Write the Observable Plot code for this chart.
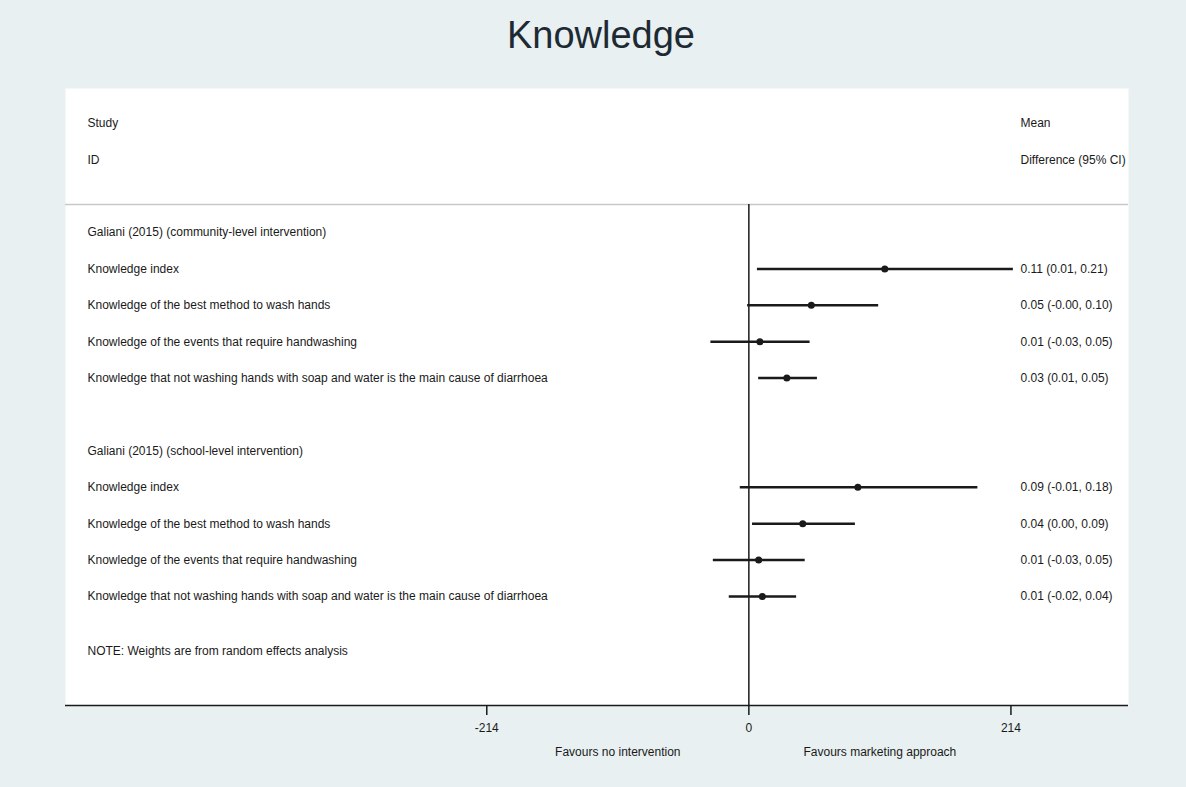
<!DOCTYPE html>
<html><head><meta charset="utf-8">
<script src="https://cdn.jsdelivr.net/npm/d3@7"></script>
<script src="https://cdn.jsdelivr.net/npm/@observablehq/plot@0.6"></script>
<style>
body{margin:0;background:#e8f0f1;font-family:"Liberation Sans",Arial,sans-serif;}
#title{height:70px;line-height:70px;text-align:center;font-size:38px;color:#1e2a33;padding-left:16px;}
#chart svg{display:block;}
</style></head><body>
<div id="title">Knowledge</div>
<div id="chart"></div>
<script>
// ---- data ----
const groups = [
  "Galiani (2015) (community-level intervention)",
  "Galiani (2015) (school-level intervention)"
];
const outcomes = [
  "Knowledge index",
  "Knowledge of the best method to wash hands",
  "Knowledge of the events that require handwashing",
  "Knowledge that not washing hands with soap and water is the main cause of diarrhoea"
];
const estimates = [0.111, 0.051, 0.009, 0.031, 0.089, 0.044, 0.008, 0.011];
const lowerCI   = [0.007, -0.001, -0.031, 0.008, -0.007, 0.003, -0.029, -0.016];
const upperCI   = [0.216, 0.106, 0.050, 0.056, 0.187, 0.087, 0.046, 0.039];
const ciLabels  = [
  "0.11 (0.01, 0.21)", "0.05 (-0.00, 0.10)", "0.01 (-0.03, 0.05)", "0.03 (0.01, 0.05)",
  "0.09 (-0.01, 0.18)", "0.04 (0.00, 0.09)", "0.01 (-0.03, 0.05)", "0.01 (-0.02, 0.04)"
];
const xTickValues = [-0.214, 0, 0.214];
const xTickLabels = ["-214", "0", "214"];
const favourLabels = ["Favours no intervention", "Favours marketing approach"];
const headerLeft = ["Study", "ID"];
const headerRight = ["Mean", "Difference (95% CI)"];
const noteText = "NOTE: Weights are from random effects analysis";

// ---- build tables ----
const step = outcomes.length + 2;
const rows = estimates.map((e, i) => {
  const g = Math.floor(i / outcomes.length);
  const k = i % outcomes.length;
  return {row: g * step + k + 1, label: outcomes[k], est: e, lo: lowerCI[i], hi: upperCI[i], ci: ciLabels[i]};
});
const groupRows = groups.map((g, j) => ({row: j * step, label: g}));
const headL = headerLeft.map((t, j) => ({row: -3 + j, label: t}));
const headR = headerRight.map((t, j) => ({row: -3 + j, label: t}));
const noteRow = 11.5;
const yTop = -3.956, yBottom = 12.995, sepRow = -0.77, favRow = 14.29;

const fs = 12;
const ink = "#1a1a1a";
const leftDx = 22, rightDx = -108;
const chart = Plot.plot({
  width: 1186,
  height: 717,
  marginLeft: 65,
  marginRight: 58,
  marginTop: 18,
  marginBottom: 82,
  style: {fontFamily: "'Liberation Sans', Arial, sans-serif", fontSize: "12px", background: "transparent", color: ink},
  x: {domain: [-0.558, 0.310]},
  y: {domain: [yTop, yBottom], reverse: true, axis: null},
  marks: [
    Plot.frame({fill: "white", stroke: "none"}),
    Plot.ruleY([sepRow], {stroke: "#c6c9ca", strokeWidth: 1.5}),
    Plot.ruleX([0], {y1: sepRow, y2: yBottom, stroke: ink, strokeWidth: 1.5}),
    Plot.ruleY(rows, {y: "row", x1: "lo", x2: "hi", stroke: ink, strokeWidth: 2.5}),
    Plot.dot(rows, {x: "est", y: "row", r: 3.5, fill: ink, stroke: "none"}),
    Plot.text(rows, {y: "row", text: "label", frameAnchor: "left", dx: leftDx, textAnchor: "start", fontSize: fs, fill: ink}),
    Plot.text(groupRows, {y: "row", text: "label", frameAnchor: "left", dx: leftDx, textAnchor: "start", fontSize: fs, fill: ink}),
    Plot.text(headL, {y: "row", text: "label", frameAnchor: "left", dx: leftDx, textAnchor: "start", fontSize: fs, fill: ink}),
    Plot.text(headR, {y: "row", text: "label", frameAnchor: "right", dx: rightDx, textAnchor: "start", fontSize: fs, fill: ink}),
    Plot.text(rows, {y: "row", text: "ci", frameAnchor: "right", dx: rightDx, textAnchor: "start", fontSize: fs, fill: ink}),
    Plot.text([noteText], {y: noteRow, text: d => d, frameAnchor: "left", dx: leftDx, textAnchor: "start", fontSize: fs, fill: ink}),
    Plot.ruleY([yBottom], {stroke: ink, strokeWidth: 1.5}),
    Plot.axisX({ticks: xTickValues, tickFormat: d => xTickLabels[xTickValues.indexOf(d)], tickSize: 10, tickPadding: 8, fontSize: fs, stroke: ink, strokeWidth: 1.5, label: null}),
    Plot.text(favourLabels, {x: (d, i) => i === 0 ? -0.107 : 0.107, y: favRow, text: d => d, fontSize: fs, fill: ink})
  ]
});
document.getElementById("chart").appendChild(chart);
</script>
</body></html>
